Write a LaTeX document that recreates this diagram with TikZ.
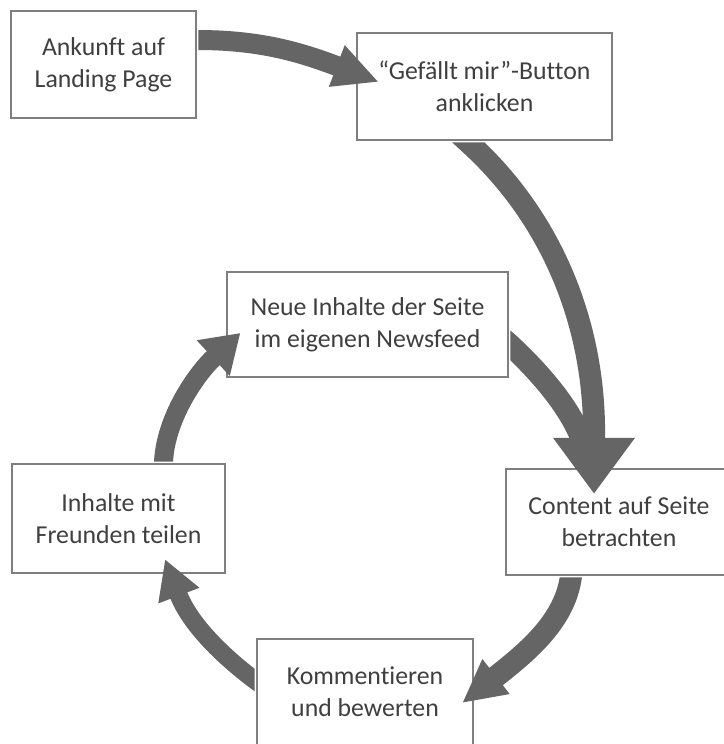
\documentclass[tikz,border=0pt]{standalone}
\usepackage{fontspec}
\setmainfont{Carlito}[Ligatures=NoCommon]
\usetikzlibrary{arrows.meta}
\definecolor{boxline}{HTML}{7F7F7F}
\definecolor{arrowgray}{HTML}{656565}
\definecolor{textgray}{HTML}{3F3F3F}
\begin{document}
\begin{tikzpicture}[x=1pt,y=-1pt,
  stepbox/.style={draw=boxline,line width=2.3pt,fill=white,align=center,
    text=textgray,inner sep=0pt,font=\fontsize{25.8}{32}\selectfont},
  bigarrow/.style={draw=arrowgray,line width=#1,line cap=butt},
  bigarrow/.default=20pt,
  head/.style 2 args={-{Triangle[width=#1,length=#2]}}]
\useasboundingbox (0,0) rectangle (723,744);
\fill[white] (0,0) rectangle (723,744);
% boxes
\node[stepbox,minimum width=185pt,minimum height=107pt] (n1) at (103.5,64.5) {Ankunft auf\\Landing Page};
\node[stepbox,minimum width=255pt,minimum height=107pt] (n2) at (484.5,86.5) {“Gefällt mir”-Button\\anklicken};
\node[stepbox,minimum width=281pt,minimum height=105pt] (n3) at (367.5,324.5) {Neue Inhalte der Seite\\im eigenen Newsfeed};
\node[stepbox,minimum width=213pt,minimum height=109pt] (n4) at (118.5,518.5) {Inhalte mit\\Freunden teilen};
\node[stepbox,minimum width=226pt,minimum height=106pt] (n5) at (619,522) {Content auf Seite\\betrachten};
\node[stepbox,minimum width=216pt,minimum height=106pt] (n6) at (365,692) {Kommentieren\\und bewerten};
% start points (inside the start box) and tips
\coordinate (s1) at ([xshift=-12pt,yshift=24.5pt]n1.east);
\coordinate (s2) at ([xshift=-32.5pt,yshift=14pt]n2.south);
\coordinate (s3) at ([xshift=-15pt,yshift=-6.5pt]n3.east);
\coordinate (s4) at ([xshift=-46pt,yshift=15pt]n5.south);
\coordinate (s5) at ([xshift=12pt,yshift=2pt]n6.west);
\coordinate (s6) at ([xshift=44.5pt,yshift=-14pt]n4.north);
\coordinate (t1) at ([xshift=23pt,yshift=4.5pt]n2.west);
\coordinate (t2) at ([xshift=-25pt,yshift=-26pt]n5.north);
\coordinate (t4) at ([xshift=-12pt,yshift=-11pt]n6.east);
\coordinate (t5) at ([xshift=46.5pt,yshift=15pt]n4.south);
\coordinate (t6) at ([xshift=14.5pt,yshift=-8.5pt]n3.west);
% arrows, each clipped so that it leaves its start box at the border
\begin{scope}
\clip (-10,-10) -- (733,-10) -- (733,754) -- (-10,754) -- cycle
  ([shift={(-1.2pt,1.2pt)}]n3.north west) -- ([shift={(-1.2pt,-1.2pt)}]n3.south west)
  -- ([shift={(1.2pt,-1.2pt)}]n3.south east) -- ([shift={(1.2pt,1.2pt)}]n3.north east) -- cycle;
\draw[bigarrow=22pt] (s3) -- ([yshift=-19.5pt]n3.east) .. controls (535,368) and (575,410) .. (585,450);
\end{scope}
\begin{scope}
\clip (-10,-10) -- (733,-10) -- (733,754) -- (-10,754) -- cycle
  ([shift={(-1.2pt,1.2pt)}]n2.north west) -- ([shift={(-1.2pt,-1.2pt)}]n2.south west)
  -- ([shift={(1.2pt,-1.2pt)}]n2.south east) -- ([shift={(1.2pt,1.2pt)}]n2.north east) -- cycle;
\draw[bigarrow=22pt,head={78pt}{56pt}] (s2) -- ([xshift=-17.5pt]n2.south) .. controls (555,220) and (596,330) .. (594,440) -- (t2);
\end{scope}
\begin{scope}
\clip (-10,-10) -- (733,-10) -- (733,754) -- (-10,754) -- cycle
  ([shift={(-1.2pt,1.2pt)}]n1.north west) -- ([shift={(-1.2pt,-1.2pt)}]n1.south west)
  -- ([shift={(1.2pt,-1.2pt)}]n1.south east) -- ([shift={(1.2pt,1.2pt)}]n1.north east) -- cycle;
\draw[bigarrow=20pt,head={41pt}{45pt}] (s1) -- ([yshift=24.5pt]n1.east) .. controls (260,40) and (300,52) .. (t1);
\end{scope}
\begin{scope}
\clip (-10,-10) -- (733,-10) -- (733,754) -- (-10,754) -- cycle
  ([shift={(-1.2pt,1.2pt)}]n5.north west) -- ([shift={(-1.2pt,-1.2pt)}]n5.south west)
  -- ([shift={(1.2pt,-1.2pt)}]n5.south east) -- ([shift={(1.2pt,1.2pt)}]n5.north east) -- cycle;
\draw[bigarrow=22pt,head={41pt}{43pt}] (s4) -- ([xshift=-48pt]n5.south) .. controls (565,620) and (530,650) .. (t4);
\end{scope}
\begin{scope}
\clip (-10,-10) -- (733,-10) -- (733,754) -- (-10,754) -- cycle
  ([shift={(-1.2pt,1.2pt)}]n6.north west) -- ([shift={(-1.2pt,-1.2pt)}]n6.south west)
  -- ([shift={(1.2pt,-1.2pt)}]n6.south east) -- ([shift={(1.2pt,1.2pt)}]n6.north east) -- cycle;
\draw[bigarrow=18pt,head={41pt}{39pt}] (s5) -- ([yshift=11pt]n6.west) .. controls (225,658) and (190,625) .. (t5);
\end{scope}
\begin{scope}
\clip (-10,-10) -- (733,-10) -- (733,754) -- (-10,754) -- cycle
  ([shift={(-1.2pt,1.2pt)}]n4.north west) -- ([shift={(-1.2pt,-1.2pt)}]n4.south west)
  -- ([shift={(1.2pt,-1.2pt)}]n4.south east) -- ([shift={(1.2pt,1.2pt)}]n4.north east) -- cycle;
\draw[bigarrow=19pt,head={46pt}{37pt}] (s6) -- ([xshift=45pt]n4.north) .. controls (165,420) and (195,375) .. (t6);
\end{scope}
\end{tikzpicture}
\end{document}
